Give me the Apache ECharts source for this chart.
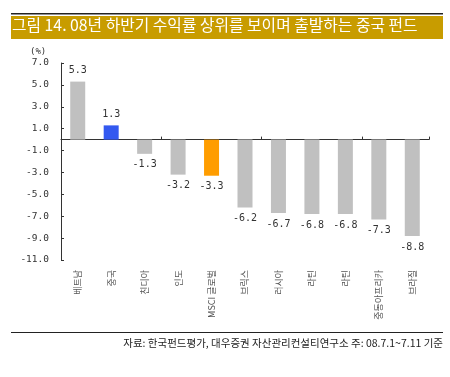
<!DOCTYPE html>
<html>
<head>
<meta charset="utf-8">
<script src="https://cdn.jsdelivr.net/npm/echarts@6/dist/echarts.min.js"></script>
<style>
    html, body { margin: 0; padding: 0; background: #fff; }
    #chart { width: 450px; height: 377px; }
</style>
</head>
<body>
<div id="chart"></div>
<script>
// 펀드별 수익률 (%)
const categories = ['베트남', '중국', '친디아', '인도', 'MSCI 글로벌', '브릭스', '러시아', '라틴', '라틴', '중동아프리카', '브라질'];
const returns = [5.3, 1.3, -1.3, -3.2, -3.3, -6.2, -6.7, -6.8, -6.8, -7.3, -8.8];
const barColors = ['#c0c0c0', '#3359f0', '#c0c0c0', '#c0c0c0', '#ff9d00', '#c0c0c0', '#c0c0c0', '#c0c0c0', '#c0c0c0', '#c0c0c0', '#c0c0c0'];
const yMin = -11, yMax = 7, yStep = 2;

const numFont = '"DejaVu Sans Mono", monospace';
const krFont = '"Noto Sans CJK KR", sans-serif';

const chart = echarts.init(document.getElementById('chart'));
chart.setOption({
    animation: false,
    grid: { left: 61, right: 21, top: 63, bottom: 117 },
    graphic: [
        { type: 'rect', shape: { x: 11, y: 13, width: 432, height: 1.5 }, style: { fill: '#222' } },
        { type: 'rect', shape: { x: 11, y: 16, width: 432, height: 23 }, style: { fill: '#c89c00' } },
        { type: 'text', left: 12, top: 17, style: { text: '그림 14. 08년 하반기 수익률 상위를 보이며 출발하는 중국 펀드', fill: '#fff', font: '15.8px ' + krFont } },
        { type: 'text', left: 30, top: 47, style: { text: '(%)', fill: '#333', font: '9px ' + numFont } },
        { type: 'rect', shape: { x: 11, y: 332, width: 432, height: 1 }, style: { fill: '#222' } },
        { type: 'text', right: 7, top: 338, style: { text: '자료: 한국펀드평가, 대우증권 자산관리컨설티연구소 주: 08.7.1~7.11 기준', fill: '#222', font: '10.5px ' + krFont } }
    ],
    xAxis: [
        {
            type: 'category',
            data: categories,
            position: 'bottom',
            axisLine: { show: false, onZero: false },
            axisTick: { show: false },
            axisLabel: {
                rotate: 90, margin: 10, color: '#555', fontSize: 9, fontFamily: krFont,
                interval: 0
            }
        },
        {
            type: 'category',
            data: categories,
            position: 'bottom',
            axisLine: { show: true, onZero: true, lineStyle: { color: '#333', width: 1 } },
            axisTick: { show: true, inside: true, length: 3, lineStyle: { color: '#333' } },
            axisLabel: { show: false }
        }
    ],
    yAxis: {
        type: 'value',
        min: yMin, max: yMax, interval: yStep,
        axisLine: { show: true, lineStyle: { color: '#333' } },
        axisTick: { show: true, inside: true, length: 3, lineStyle: { color: '#333' } },
        splitLine: { show: false },
        axisLabel: {
            color: '#333', fontSize: 9.5, fontFamily: numFont, margin: 12,
            formatter: v => v.toFixed(1)
        }
    },
    series: [{
        type: 'bar',
        xAxisIndex: 0,
        barWidth: 15,
        data: returns.map((v, i) => ({
            value: v,
            itemStyle: { color: barColors[i] },
            label: { position: v >= 0 ? 'top' : 'bottom' }
        })),
        label: {
            show: true, color: '#333', fontSize: 10, fontFamily: numFont, distance: 6,
            formatter: p => p.value.toFixed(1)
        }
    }]
});
</script>
</body>
</html>
